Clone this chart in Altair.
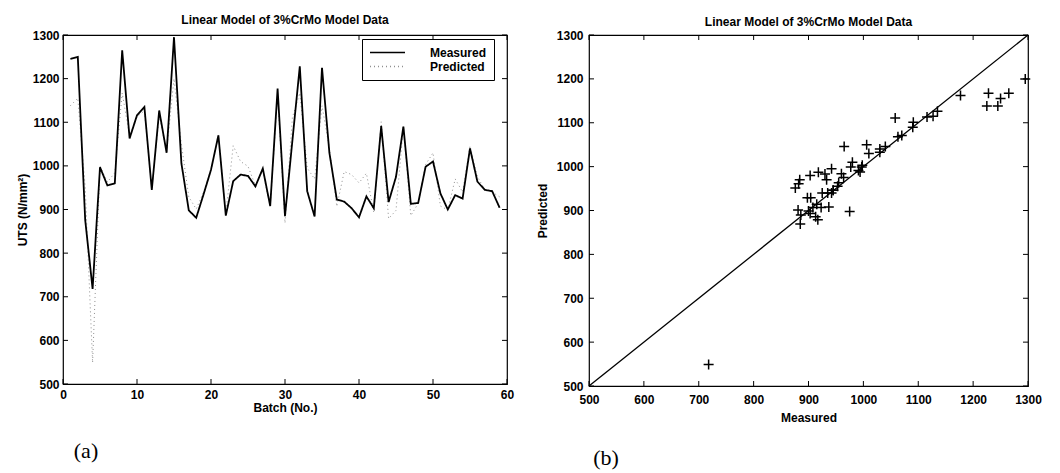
import altair as alt
import pandas as pd

# ---------------- data ----------------
batch = list(range(1, 60))
measured = [1245, 1250, 876, 718, 997, 955, 960, 1265, 1063, 1116,
            1135, 945, 1127, 1030, 1295, 1006, 898, 881, 935, 991,
            1070, 886, 965, 980, 977, 953, 994, 908, 1177, 885,
            1058, 1228, 942, 884, 1225, 1030, 923, 918, 903, 882,
            930, 903, 1091, 917, 975, 1090, 913, 915, 998, 1010,
            937, 900, 933, 925, 1040, 964, 945, 942, 904]
predicted = [1138, 1155, 951, 549, 999, 963, 984, 1167, 1068, 1113,
             1126, 946, 1115, 1033, 1200, 1050, 929, 901, 940, 991,
             1071, 890, 1046, 1010, 999, 955, 988, 907, 1162, 869,
             1111, 1167, 995, 970, 1138, 1040, 907, 987, 980, 961,
             983, 893, 1101, 879, 898, 1090, 886, 914, 1003, 1030,
             908, 899, 970, 940, 1046, 975, 946, 940, 929]
series_names = ["Measured", "Predicted"]
batch_ticks = [0, 10, 20, 30, 40, 50, 60]
uts_ticks = [500, 600, 700, 800, 900, 1000, 1100, 1200, 1300]
diag_ends = [500, 1300]

TITLE = "Linear Model of 3%CrMo Model Data"
FONT = "Liberation Sans"
SERIF = "Liberation Serif"
FS = 12

WA, HA = 444, 349
WB, HB = 439, 351
TL = 5  # inward tick length

lines_df = pd.DataFrame({
    "Batch": batch * 2,
    "UTS": measured + predicted,
    "series": ["Measured"] * len(batch) + ["Predicted"] * len(batch),
})
scatter_df = pd.DataFrame({"Measured": measured, "Predicted": predicted})
diag_df = pd.DataFrame({"Measured": diag_ends, "Predicted": diag_ends})

xa_scale = alt.Scale(domain=[0, 60], nice=False, zero=False)
ya_scale = alt.Scale(domain=[500, 1300], nice=False, zero=False)
b_scale = alt.Scale(domain=[500, 1300], nice=False, zero=False)

axis_common = dict(
    labelFont=FONT, labelFontSize=FS, labelFontWeight="bold", labelColor="black",
    titleFont=FONT, titleFontSize=FS, titleFontWeight="bold", titleColor="black",
    ticks=False, tickSize=0, domain=False, grid=False, labelFlush=False,
    labelOverlap=False, format="d",
)
ax_a_x = alt.Axis(values=batch_ticks, title="Batch (No.)", labelPadding=5,
                  titlePadding=2, **axis_common)
ax_a_y = alt.Axis(values=uts_ticks, title="UTS (N/mm²)", labelPadding=4,
                  titlePadding=3, **axis_common)
ax_b_x = alt.Axis(values=uts_ticks, title="Measured", labelPadding=8,
                  titlePadding=7, **axis_common)
ax_b_y = alt.Axis(values=uts_ticks, title="Predicted", labelPadding=6,
                  titlePadding=7, **axis_common)

color_enc = alt.Color(
    "series:N",
    scale=alt.Scale(domain=series_names, range=["black", "#8f8f8f"]),
    legend=alt.Legend(
        title=None, orient="none", legendX=299, legendY=4,
        symbolType="stroke", symbolSize=1225, symbolStrokeWidth=1.6,
        clipHeight=13,
        labelFont=FONT, labelFontSize=FS, labelFontWeight="bold", labelColor="black",
        labelOffset=24, padding=7, rowPadding=1,
        strokeColor="black", fillColor="white",
    ),
)
dash_enc = alt.StrokeDash(
    "series:N",
    scale=alt.Scale(domain=series_names, range=[[1, 0], [1, 3]]),
    legend=None,
)

base_a = alt.Chart(lines_df).encode(
    x=alt.X("Batch:Q", scale=xa_scale, axis=ax_a_x),
    y=alt.Y("UTS:Q", scale=ya_scale, axis=ax_a_y),
    color=color_enc,
    strokeDash=dash_enc,
)
pred_line = base_a.transform_filter(alt.datum.series == "Predicted").mark_line(strokeWidth=1.0)
meas_line = base_a.transform_filter(alt.datum.series == "Measured").mark_line(strokeWidth=1.8)

bx = pd.DataFrame({"Batch": batch_ticks})
by = pd.DataFrame({"UTS": uts_ticks})
ticks_a = [
    alt.Chart(bx).mark_rule(color="black").encode(
        x=alt.X("Batch:Q", scale=xa_scale, axis=ax_a_x), y=alt.value(HA), y2=alt.value(HA - TL)),
    alt.Chart(bx).mark_rule(color="black").encode(
        x=alt.X("Batch:Q", scale=xa_scale, axis=ax_a_x), y=alt.value(0), y2=alt.value(TL)),
    alt.Chart(by).mark_rule(color="black").encode(
        y=alt.Y("UTS:Q", scale=ya_scale, axis=ax_a_y), x=alt.value(0), x2=alt.value(TL)),
    alt.Chart(by).mark_rule(color="black").encode(
        y=alt.Y("UTS:Q", scale=ya_scale, axis=ax_a_y), x=alt.value(WA), x2=alt.value(WA - TL)),
]
label_a = alt.Chart(pd.DataFrame({"t": ["(a)"]})).mark_text(
    font=SERIF, fontSize=22, color="black", align="center", baseline="middle"
).encode(text="t:N", x=alt.value(23), y=alt.value(HA + 67))

panel_a = alt.layer(pred_line, meas_line, *ticks_a, label_a).properties(
    width=WA, height=HA,
    title=alt.TitleParams(TITLE, font=FONT, fontSize=FS, fontWeight="bold",
                          color="black", offset=2),
)

# ---------------- panel b ----------------
diag = alt.Chart(diag_df).mark_line(color="black", strokeWidth=1.3).encode(
    x=alt.X("Measured:Q", scale=b_scale, axis=ax_b_x),
    y=alt.Y("Predicted:Q", scale=b_scale, axis=ax_b_y),
)
pts = alt.Chart(scatter_df).mark_point(
    shape="M-1,0L1,0M0,-1L0,1", size=100, filled=False, strokeWidth=1.5,
    color="black", opacity=1,
).encode(
    x=alt.X("Measured:Q", scale=b_scale, axis=ax_b_x),
    y=alt.Y("Predicted:Q", scale=b_scale, axis=ax_b_y),
)
mx = pd.DataFrame({"Measured": uts_ticks})
my = pd.DataFrame({"Predicted": uts_ticks})
ticks_b = [
    alt.Chart(mx).mark_rule(color="black").encode(
        x=alt.X("Measured:Q", scale=b_scale, axis=ax_b_x), y=alt.value(HB), y2=alt.value(HB - TL)),
    alt.Chart(mx).mark_rule(color="black").encode(
        x=alt.X("Measured:Q", scale=b_scale, axis=ax_b_x), y=alt.value(0), y2=alt.value(TL)),
    alt.Chart(my).mark_rule(color="black").encode(
        y=alt.Y("Predicted:Q", scale=b_scale, axis=ax_b_y), x=alt.value(0), x2=alt.value(TL)),
    alt.Chart(my).mark_rule(color="black").encode(
        y=alt.Y("Predicted:Q", scale=b_scale, axis=ax_b_y), x=alt.value(WB), x2=alt.value(WB - TL)),
]
label_b = alt.Chart(pd.DataFrame({"t": ["(b)"]})).mark_text(
    font=SERIF, fontSize=22, color="black", align="center", baseline="middle"
).encode(text="t:N", x=alt.value(17), y=alt.value(HB + 72))

panel_b = alt.layer(diag, pts, *ticks_b, label_b).properties(
    width=WB, height=HB,
    title=alt.TitleParams(TITLE, font=FONT, fontSize=FS, fontWeight="bold",
                          color="black", offset=0),
)

chart = alt.hconcat(panel_a, panel_b, spacing=20).properties(
    padding={"left": 15, "top": 13, "right": 0, "bottom": 0},
    background="white",
).configure_view(stroke="black", strokeWidth=1.2).resolve_scale(
    x="independent", y="independent", color="independent", strokeDash="independent"
)

chart.save("out.html", embed_options={"renderer": "svg", "actions": False})
